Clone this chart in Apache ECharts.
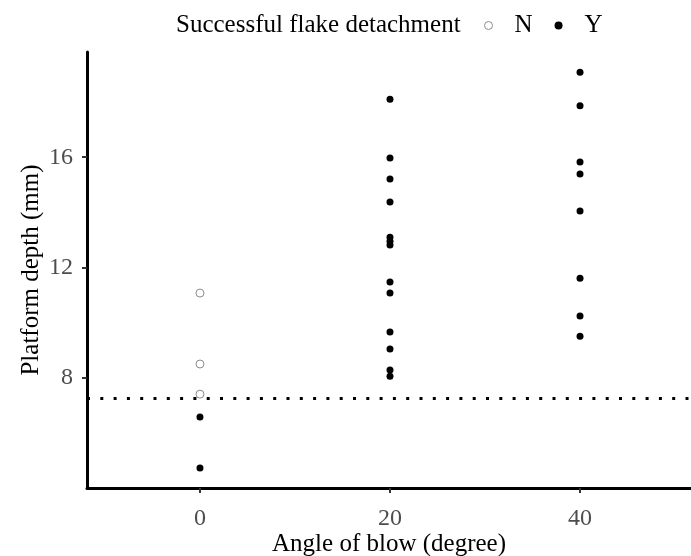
<!DOCTYPE html>
<html>
<head>
<meta charset="utf-8">
<script src="https://cdn.jsdelivr.net/npm/echarts@6/dist/echarts.min.js"></script>
<style>
  html, body { margin: 0; padding: 0; background: #fff; }
  #chart { width: 691px; height: 556px; }
</style>
</head>
<body>
<div id="chart"></div>
<script>
// data
const angleN = [0, 0, 0];
const depthN = [11.08, 8.51, 7.42];

const angleY = [0, 0,
    20, 20, 20, 20, 20, 20, 20, 20, 20, 20, 20, 20, 20,
    40, 40, 40, 40, 40, 40, 40, 40];
const depthY = [6.59, 4.74,
    18.1, 15.97, 15.21, 14.38, 13.1, 12.96, 12.82, 11.48, 11.08, 9.67, 9.05, 8.29, 8.07,
    19.08, 17.86, 15.83, 15.39, 14.05, 11.62, 10.25, 9.52];

const xTicks = [0, 20, 40];
const yTicks = [8, 12, 16];
const thresholdDepth = 7.28;

const serif = 'Liberation Serif';

document.addEventListener('DOMContentLoaded', function () {
    const chart = echarts.init(document.getElementById('chart'));

    const pairs = (xs, ys) => xs.map((x, i) => [x, ys[i]]);

    chart.setOption({
        animation: false,
        backgroundColor: '#fff',
        title: {
            text: 'Successful flake detachment',
            left: 171,
            top: 8,
            textStyle: { fontFamily: serif, fontSize: 25, fontWeight: 'normal', color: '#000' }
        },
        legend: {
            left: 479,
            top: 8,
            itemWidth: 8,
            itemHeight: 8,
            itemGap: 22,
            textStyle: { fontFamily: serif, fontSize: 25, color: '#000', padding: [0, 0, 0, 17] },
            data: [
                { name: 'N', icon: 'circle', itemStyle: { color: '#fff', borderColor: '#8c8c8c', borderWidth: 1, opacity: 1 } },
                { name: 'Y', icon: 'circle', itemStyle: { color: '#000', opacity: 1 } }
            ]
        },
        grid: { left: 87, right: 0, top: 52, bottom: 68, outerBoundsMode: 'none', containLabel: false },
        xAxis: {
            type: 'value',
            min: -11.89,
            max: 51.68,
            name: 'Angle of blow (degree)',
            nameLocation: 'middle',
            nameGap: 44,
            nameMoveOverlap: false,
            nameTextStyle: { fontFamily: serif, fontSize: 25, color: '#000' },
            splitLine: { show: false },
            axisLine: { onZero: false, lineStyle: { color: '#000', width: 3 } },
            axisTick: { customValues: xTicks, length: 5, lineStyle: { color: '#333', width: 2 } },
            axisLabel: { customValues: xTicks, margin: 19, fontFamily: serif, fontSize: 24, color: '#4d4d4d' }
        },
        yAxis: {
            type: 'value',
            min: 4.02,
            max: 19.81,
            name: 'Platform depth (mm)',
            nameLocation: 'middle',
            nameGap: 43,
            nameMoveOverlap: false,
            nameTextStyle: { fontFamily: serif, fontSize: 25, color: '#000' },
            splitLine: { show: false },
            axisLine: { onZero: false, lineStyle: { color: '#000', width: 3 } },
            axisTick: { customValues: yTicks, length: 5, lineStyle: { color: '#333', width: 2 } },
            axisLabel: { customValues: yTicks, margin: 14, fontFamily: serif, fontSize: 24, color: '#4d4d4d' }
        },
        series: [
            {
                name: 'N',
                type: 'scatter',
                symbol: 'circle',
                symbolSize: 8,
                itemStyle: { color: '#fff', borderColor: '#8c8c8c', borderWidth: 1, opacity: 1 },
                data: pairs(angleN, depthN)
            },
            {
                name: 'Y',
                type: 'scatter',
                symbol: 'circle',
                symbolSize: 7,
                itemStyle: { color: '#000', opacity: 1 },
                data: pairs(angleY, depthY),
                markLine: {
                    silent: true,
                    symbol: 'none',
                    label: { show: false },
                    lineStyle: { color: '#000', width: 3, type: [3, 10.3], opacity: 1 },
                    data: [{ yAxis: thresholdDepth }]
                }
            }
        ]
    });
});
</script>
</body>
</html>
